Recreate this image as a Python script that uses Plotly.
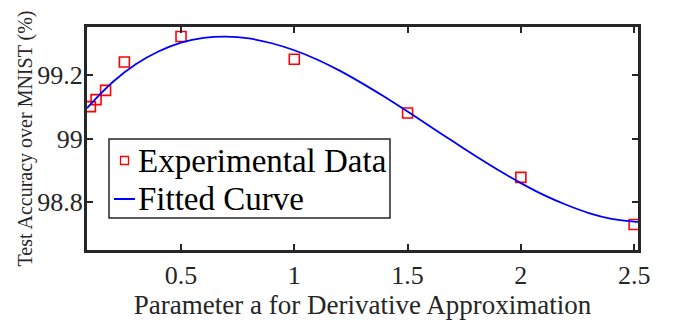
import plotly.graph_objects as go

# Experimental data
exp_x = [0.1, 0.125, 0.167, 0.25, 0.5, 1.0, 1.5, 2.0, 2.5]
exp_y = [99.10, 99.122, 99.151, 99.240, 99.320, 99.249, 99.080, 98.878, 98.730]

# Fitted curve samples
fit_x = [0.085, 0.1, 0.2, 0.3, 0.4, 0.5, 0.6, 0.7, 0.8, 0.9, 1.0, 1.1, 1.2, 1.3, 1.4,
         1.5, 1.6, 1.7, 1.8, 1.9, 2.0, 2.1, 2.2, 2.3, 2.4, 2.5, 2.517]
fit_y = [99.095, 99.107, 99.178, 99.233, 99.273, 99.301, 99.316, 99.320, 99.314, 99.299,
         99.277, 99.248, 99.213, 99.173, 99.130, 99.085, 99.038, 98.991, 98.945, 98.901,
         98.860, 98.823, 98.792, 98.766, 98.748, 98.739, 98.738]

x_ticks = [0.5, 1, 1.5, 2, 2.5]
x_tick_labels = ["0.5", "1", "1.5", "2", "2.5"]
y_ticks = [98.8, 99.0, 99.2]
y_tick_labels = ["98.8", "99", "99.2"]
legend_labels = ["Experimental Data", "Fitted Curve"]

FONT = "Liberation Serif"
AX = "#262626"
RED = "#ff0000"
BLUE = "#0000ff"

W, H = 673, 324
ML, MR, MT, MB = 87, 35, 27, 74
PW, PH = W - ML - MR, H - MT - MB


def px(x):
    return (x - ML) / PW


def py(y):
    return (H - MB - y) / PH


fig = go.Figure()
fig.add_trace(go.Scatter(
    x=exp_x, y=exp_y, mode="markers", name=legend_labels[0], showlegend=False,
    marker=dict(symbol="square-open", size=10, color=RED, line=dict(width=1.6, color=RED)),
))
fig.add_trace(go.Scatter(
    x=fit_x, y=fit_y, mode="lines", name=legend_labels[1], showlegend=False,
    line=dict(color=BLUE, width=1.8, shape="spline", smoothing=0.6),
))

# Legend box drawn in paper coordinates
shapes = [
    dict(type="rect", xref="paper", yref="paper", x0=px(109), x1=px(390), y0=py(218), y1=py(139),
         line=dict(color=AX, width=1.5), fillcolor="white", layer="above"),
    dict(type="rect", xref="paper", yref="paper", x0=px(120.5), x1=px(128.5), y0=py(164.5), y1=py(156.5),
         line=dict(color=RED, width=1.3), fillcolor="white", layer="above"),
    dict(type="line", xref="paper", yref="paper", x0=px(114), x1=px(135), y0=py(199), y1=py(199),
         line=dict(color=BLUE, width=2), layer="above"),
]
annotations = [
    dict(text=legend_labels[0], xref="paper", yref="paper", x=px(136), y=py(161),
         xanchor="left", yanchor="middle", showarrow=False,
         font=dict(family=FONT, size=33, color="black")),
    dict(text=legend_labels[1], xref="paper", yref="paper", x=px(136), y=py(199),
         xanchor="left", yanchor="middle", showarrow=False,
         font=dict(family=FONT, size=33, color="black")),
]

axis_common = dict(
    showline=True, linecolor=AX, linewidth=3, mirror="ticks",
    ticks="inside", ticklen=6, tickwidth=2, tickcolor=AX,
    showgrid=False, zeroline=False,
    tickfont=dict(family=FONT, size=26, color="#262626"),
)

fig.update_layout(
    width=W, height=H,
    margin=dict(l=ML, r=MR, t=MT, b=MB),
    paper_bgcolor="white", plot_bgcolor="white",
    font=dict(family=FONT, color="#262626"),
    showlegend=False,
    shapes=shapes,
    annotations=annotations,
    xaxis=dict(
        range=[0.085, 2.517], tickvals=x_ticks, ticktext=x_tick_labels,
        title=dict(text="Parameter a for Derivative Approximation",
                   font=dict(family=FONT, size=27, color="#262626"), standoff=2),
        **axis_common,
    ),
    yaxis=dict(
        range=[98.65, 99.35], tickvals=y_ticks, ticktext=y_tick_labels,
        ticklabelstandoff=-4,
        title=dict(text="Test Accuracy over MNIST (%)",
                   font=dict(family=FONT, size=20, color="#262626"), standoff=0),
        **axis_common,
    ),
)

fig.write_html("out.html")
